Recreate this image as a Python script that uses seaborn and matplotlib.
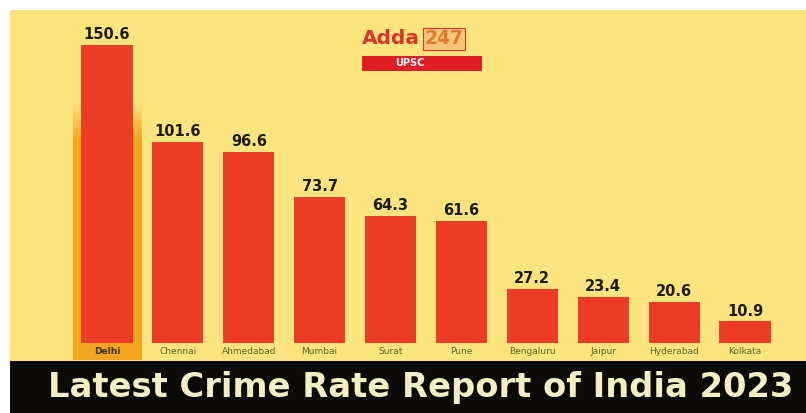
import numpy as np
import pandas as pd
import matplotlib
matplotlib.use("Agg")
import matplotlib.pyplot as plt
from matplotlib.patches import Rectangle
import seaborn as sns

# City-wise crime rate figures
cities = ["Delhi", "Chennai", "Ahmedabad", "Mumbai", "Surat", "Pune",
          "Bengaluru", "Jaipur", "Hyderabad", "Kolkata"]
crime_rate = [150.6, 101.6, 96.6, 73.7, 64.3, 61.6, 27.2, 23.4, 20.6, 10.9]
value_labels = ["150.6", "101.6", "96.6", "73.7", "64.3", "61.6",
                "27.2", "23.4", "20.6", "10.9"]
title_text = "Latest Crime Rate Report of India 2023"

YELLOW = "#FCE57F"
RED = "#EE3D27"
ORANGE = "#F5A51E"
CREAM = "#F4EFC2"

sns.set_theme(style="white")
plt.rcParams["font.family"] = ["DejaVu Sans"]

W, H = 806, 413
fig = plt.figure(figsize=(W / 100, H / 100), dpi=100, facecolor="white")


def fx(px):
    return px / W


def fy(py):
    return 1 - py / H


# yellow chart panel and dark headline band
fig.patches.append(Rectangle((fx(10), fy(362)), fx(W - 10), fy(10) - fy(362),
                             transform=fig.transFigure, facecolor=YELLOW,
                             edgecolor="none", zorder=-10))
fig.patches.append(Rectangle((fx(10), 0), fx(W - 10), fy(361),
                             transform=fig.transFigure, facecolor="#0b0a08",
                             edgecolor="none", zorder=-9))

# plot area: baseline at y=343 px, top at y=10 px
base_px, top_px = 343, 10
px_per_unit = 1.98
ax = fig.add_axes([fx(10), fy(base_px), fx(W - 10), fy(top_px) - fy(base_px)])
ax.set_facecolor("none")

df = pd.DataFrame({"city": cities, "rate": crime_rate})

# highlight strip behind the first bar, fading out at its top
spacing = 70.9
hl_top = (base_px - 100) / px_per_unit
hl_bottom = -(360 - base_px) / px_per_unit
n = 80
t = np.linspace(0, 1, n)
grad = np.ones((n, 1, 4))
grad[..., :3] = matplotlib.colors.to_rgb(ORANGE)
grad[:, 0, 3] = np.where(t > 0.85, (1 - t) / 0.15, 1.0)
ax.imshow(grad, extent=(-0.48, 0.48, hl_bottom, hl_top), aspect="auto",
          origin="lower", zorder=0, clip_on=False, interpolation="bilinear")

sns.barplot(data=df, x="city", y="rate", color=RED, width=0.72,
            saturation=1, linewidth=0, edgecolor="none", ax=ax, zorder=2)

ax.bar_label(ax.containers[0], labels=value_labels, padding=2,
             fontsize=10.5, fontweight="bold", color="#1c1c14")

ax.set_xlim(-(107 - 10) / spacing, 9 + (806 - 745) / spacing)
ax.set_ylim(0, (base_px - top_px) / px_per_unit)
ax.set_xlabel("")
ax.set_ylabel("")
ax.set_yticks([])
ax.tick_params(axis="x", length=0, pad=3, labelsize=6.5, labelcolor="#56662e")
for lbl in ax.get_xticklabels():
    if lbl.get_text() == "Delhi":
        lbl.set_fontweight("bold")
        lbl.set_color("#3a3410")
for s in ax.spines.values():
    s.set_visible(False)

# brand mark
fig.text(fx(362), fy(39), "Adda", fontsize=14.5, fontweight="bold",
         color="#D8352A", va="center", ha="left")
fig.text(fx(424), fy(39), "247", fontsize=13.5, fontweight="bold",
         color="#E07A2E", va="center", ha="left",
         bbox=dict(boxstyle="square,pad=0.08", facecolor="#F6C77A",
                   edgecolor="#D8352A", linewidth=0.8))
fig.patches.append(Rectangle((fx(362), fy(71)), fx(120), fy(56) - fy(71),
                             transform=fig.transFigure, facecolor="#E01E26",
                             edgecolor="none"))
fig.text(fx(410), fy(63.5), "UPSC", fontsize=7, fontweight="bold",
         color="white", va="center", ha="center")

# headline band
fig.text(fx(421), fy(388), title_text, fontsize=24.3, fontweight="heavy",
         color=CREAM, ha="center", va="center")

fig.savefig("out.png", dpi=100, facecolor="white")
